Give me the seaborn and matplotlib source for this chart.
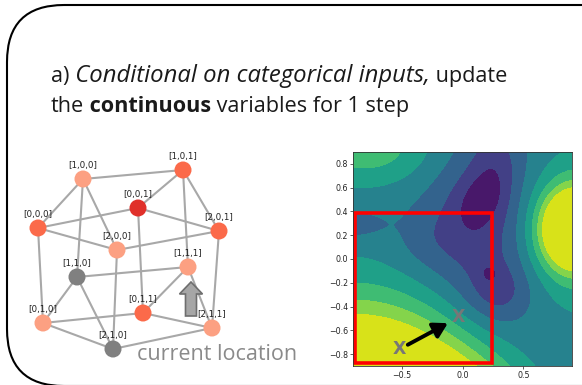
import numpy as np
import matplotlib
matplotlib.use("Agg")
import matplotlib.pyplot as plt
import seaborn as sns
from matplotlib.patches import FancyBboxPatch, FancyArrow, Rectangle
from matplotlib.ticker import MultipleLocator

# categorical states of the graph (layout, pixel units)
node_names = ["[0,0,0]", "[1,0,0]", "[2,0,0]", "[0,0,1]", "[1,0,1]", "[2,0,1]",
              "[0,1,0]", "[1,1,0]", "[2,1,0]", "[0,1,1]", "[1,1,1]", "[2,1,1]"]
node_x = [38, 83, 117, 138, 183, 219, 43, 77, 113, 143, 188, 212]
node_y = [228, 179, 250, 208, 170, 231, 323, 277, 349, 313, 267, 328]
node_state = ["mid", "low", "low", "high", "mid", "mid",
              "low", "visited", "visited", "mid", "low", "low"]
edges = [("[0,0,0]", "[1,0,0]"), ("[0,0,0]", "[2,0,0]"), ("[1,0,0]", "[2,0,0]"),
         ("[0,0,1]", "[1,0,1]"), ("[0,0,1]", "[2,0,1]"), ("[1,0,1]", "[2,0,1]"),
         ("[0,1,0]", "[1,1,0]"), ("[0,1,0]", "[2,1,0]"), ("[1,1,0]", "[2,1,0]"),
         ("[0,1,1]", "[1,1,1]"), ("[0,1,1]", "[2,1,1]"), ("[1,1,1]", "[2,1,1]"),
         ("[0,0,0]", "[0,1,0]"), ("[1,0,0]", "[1,1,0]"), ("[2,0,0]", "[2,1,0]"),
         ("[0,0,1]", "[0,1,1]"), ("[1,0,1]", "[1,1,1]"), ("[2,0,1]", "[2,1,1]"),
         ("[0,0,0]", "[0,0,1]"), ("[1,0,0]", "[1,0,1]"), ("[2,0,0]", "[2,0,1]"),
         ("[0,1,0]", "[0,1,1]"), ("[1,1,0]", "[1,1,1]"), ("[2,1,0]", "[2,1,1]")]
state_colors = {"visited": "#808080", "low": "#fca082", "mid": "#fb6a4a", "high": "#e0302a"}

# continuous landscape: bumps and dips
base_level = 3.3
bump_x = [0.92, 1.00, -0.80, 0.12, 0.19, 0.27, 0.30, 0.22, -0.30, -0.93]
bump_y = [0.25, 0.25, 0.95, 0.30, 0.55, 0.90, -0.28, -0.12, 0.15, 0.29]
bump_height = [8.0, 1.2, 2.4, -1.9, -1.5, -0.9, -1.4, -1.1, -0.6, -1.3]
bump_sx = [0.20, 0.30, 0.38, 0.28, 0.20, 0.15, 0.18, 0.04, 0.20, 0.18]
bump_sy = [0.24, 0.60, 0.22, 0.45, 0.135, 0.15, 0.18, 0.04, 0.20, 0.075]
bump_angle = [0, 0, 0, 0, 59, 0, 0, 0, 0, 0]
# bottom-left slope (curved ridge)
slope_height = 7.0
slope_width = 0.475
slope_curve = 0.42
slope_anchor = (-0.9, -1.0)

region_x = [-0.885, 0.243]
region_y = [-0.875, 0.39]
path_x = [-0.52, -0.03]
path_y = [-0.76, -0.49]

# title pieces and their widths in the picture (pixels, incl. leading space)
line1 = [("a)", "normal", 15), (" Conditional on categorical inputs,", "italic", 371),
         (" update", "normal", 70)]
line2 = [("the", "normal", 28), (" continuous", "bold", 104), (" variables for 1 step", "normal", 228)]

sns.set_style("ticks")
plt.rcParams["font.family"] = ["DejaVu Sans"]
text_font = ["Open Sans", "DejaVu Sans"]

fig = plt.figure(figsize=(5.82, 3.85), dpi=100)
renderer = fig.canvas.get_renderer()

ov = fig.add_axes([0, 0, 1, 1])
ov.set_xlim(0, 582)
ov.set_ylim(385, 0)
ov.axis("off")

frame = FancyBboxPatch((7, 5), 700, 381, boxstyle="round,pad=0,rounding_size=57",
                       fc="none", ec="black", lw=1.5)
ov.add_patch(frame)


def style_kw(kind):
    if kind == "italic":
        return dict(style="italic")
    if kind == "bold":
        return dict(weight="bold")
    return dict(weight="normal")


def text_width(s, kind, size):
    t = ov.text(0, 0, s, fontsize=size, family=text_font, **style_kw(kind))
    wdt = t.get_window_extent(renderer).width
    t.remove()
    return wdt


# one size for upright text, fitted on line 2; italic fitted on its own width
ref_size = 14.0
upright = sum(text_width(s, k, ref_size) for s, k, _ in line2)
FS = ref_size * sum(w for _, _, w in line2) / upright
italic_size = FS * line1[1][2] / text_width(line1[1][0], "italic", FS)
italic_size = min(italic_size, FS * 1.1)


def write_line(parts, x, y):
    cx = x
    for s, kind, _ in parts:
        size = italic_size if kind == "italic" else FS
        t = ov.text(cx, y, s, va="baseline", fontsize=size, family=text_font,
                    color="#1a1a1a", **style_kw(kind))
        cx += t.get_window_extent(renderer).width


write_line(line1, 51, 82)
write_line(line2, 51, 112)

# graph of categorical states
pos = {n: (x, y) for n, x, y in zip(node_names, node_x, node_y)}
for a, b in edges:
    ov.plot([pos[a][0], pos[b][0]], [pos[a][1], pos[b][1]], color="#a8a8a8",
            lw=1.5, zorder=1, solid_capstyle="round")
sns.scatterplot(x=node_x, y=node_y, hue=node_state, palette=state_colors,
                s=150, linewidth=0, legend=False, zorder=3, ax=ov)
for n, x, y in zip(node_names, node_x, node_y):
    ov.annotate(n, (x, y), xytext=(0, 10), textcoords="offset points",
                ha="center", va="center", fontsize=6.3, color="#222222")
ov.axis("off")
ov.set_xlim(0, 582)
ov.set_ylim(385, 0)

ov.add_patch(FancyArrow(191, 316, 0, -34, width=11, head_width=23, head_length=12,
                        length_includes_head=True, fc="#a6a6a6", ec="#6e6e6e",
                        lw=1.2, zorder=4))
ov.text(137, 360, "current location", fontsize=15.5, family=text_font,
        color="#8a8a8a", va="baseline")

# landscape over the continuous variables
cax = fig.add_axes([353 / 582, 19 / 385, 219 / 582, 214 / 385])
gx = np.linspace(-0.9, 0.9, 400)
X, Y = np.meshgrid(gx, gx)
Z = np.full_like(X, base_level)
for bx, by, h, sx, sy, ang in zip(bump_x, bump_y, bump_height, bump_sx, bump_sy, bump_angle):
    t = np.deg2rad(ang)
    u = np.cos(t) * (X - bx) + np.sin(t) * (Y - by)
    v = -np.sin(t) * (X - bx) + np.cos(t) * (Y - by)
    Z += h * np.exp(-0.5 * ((u / sx) ** 2 + (v / sy) ** 2))
w = Y + slope_curve * (X - slope_anchor[0]) ** 2 - slope_anchor[1]
Z += slope_height * np.exp(-0.5 * (w / slope_width) ** 2)
Z = np.clip(Z, 0.02, 7.98)

cax.contourf(X, Y, Z, levels=np.arange(9), cmap="viridis")
cax.set_xlim(-0.9, 0.9)
cax.set_ylim(-0.9, 0.9)
cax.xaxis.set_major_locator(MultipleLocator(0.5))
cax.yaxis.set_major_locator(MultipleLocator(0.2))
cax.tick_params(labelsize=5.7, length=2, width=0.5, pad=1.5, colors="#222222")
for sp in cax.spines.values():
    sp.set_linewidth(0.6)
    sp.set_color("#333333")

cax.add_patch(Rectangle((region_x[0], region_y[0]), region_x[1] - region_x[0],
                        region_y[1] - region_y[0], fill=False, ec="red", lw=2.6))
for px, py in zip(path_x, path_y):
    cax.text(px, py, "X", ha="center", va="center", fontsize=12.5,
             weight="bold", color="#777777")
cax.annotate("", xy=(path_x[1], path_y[1]), xytext=(path_x[0], path_y[0]),
             arrowprops=dict(arrowstyle="-|>,head_length=0.6,head_width=0.35",
                             lw=2.8, color="black", mutation_scale=14,
                             shrinkA=7, shrinkB=9))

fig.savefig("out.png", dpi=100)
